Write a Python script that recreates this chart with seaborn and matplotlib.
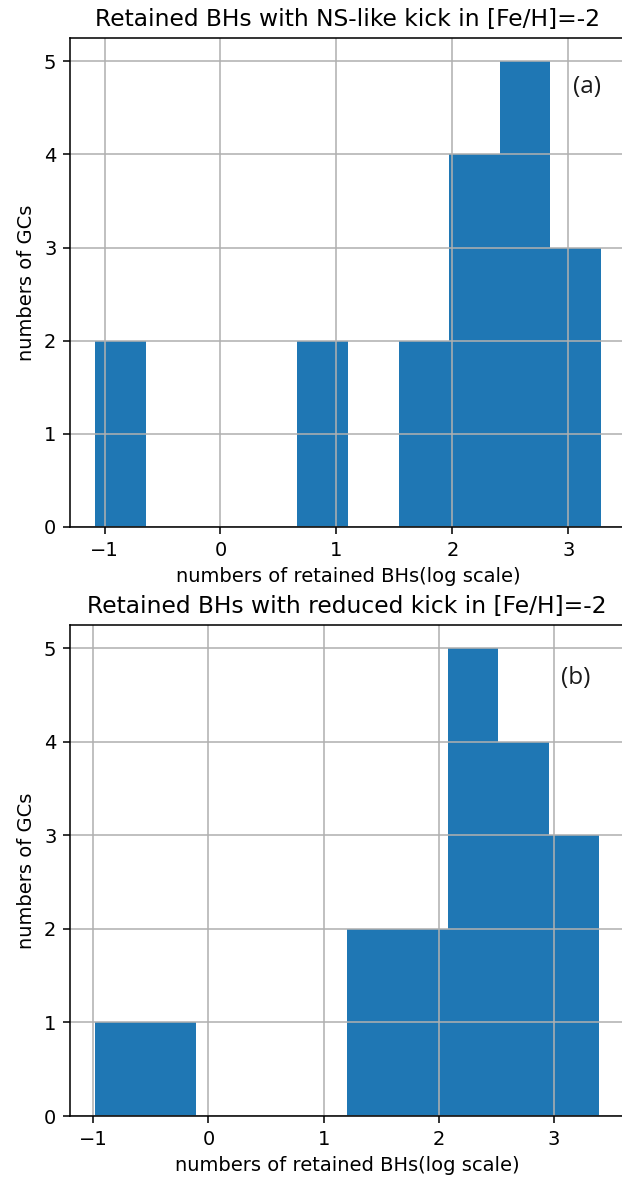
import matplotlib
matplotlib.use("Agg")
import matplotlib.pyplot as plt
import seaborn as sns
import numpy as np
import pandas as pd

# bin edges (log10 of retained BH number) and GC counts per bin
ns_kick_edges = [-1.08, -0.644, -0.208, 0.228, 0.664, 1.10, 1.536, 1.972, 2.408, 2.844, 3.28]
ns_kick_counts = [2, 0, 0, 0, 2, 0, 2, 4, 5, 3]

reduced_kick_edges = [-0.984, -0.547, -0.109, 0.328, 0.766, 1.203, 1.641, 2.078, 2.516, 2.953, 3.39]
reduced_kick_counts = [1, 1, 0, 0, 0, 2, 2, 5, 4, 3]

titles = ["Retained BHs with NS-like kick in [Fe/H]=-2",
          "Retained BHs with reduced kick in [Fe/H]=-2"]
panel_tags = ["(a)", "(b)"]
xlabel = "numbers of retained BHs(log scale)"
ylabel = "numbers of GCs"

W, H, DPI = 622, 1180, 140
fig = plt.figure(figsize=(W / DPI, H / DPI), dpi=DPI)

# axes boxes in pixels: left, top, right, bottom
boxes = [(70, 38, 626, 527), (70, 625, 624, 1116)]
tag_pos = [(0.904, 0.899), (0.886, 0.892)]

data = [(ns_kick_edges, ns_kick_counts), (reduced_kick_edges, reduced_kick_counts)]

for i, (edges, counts) in enumerate(data):
    l, t, r, b = boxes[i]
    ax = fig.add_axes([l / W, 1 - b / H, (r - l) / W, (b - t) / H])
    e = np.array(edges)
    df = pd.DataFrame({"logn": (e[:-1] + e[1:]) / 2, "count": counts})
    sns.histplot(data=df, x="logn", weights="count", bins=list(edges), ax=ax,
                 color="#1f77b4", alpha=1, linewidth=0)
    ax.set_axisbelow("line")
    ax.grid(True, color="#b0b0b0", linewidth=0.8)
    ax.spines["right"].set_visible(False)
    ax.set_title(titles[i])
    ax.set_xlabel(xlabel)
    ax.set_ylabel(ylabel)
    ax.text(tag_pos[i][0], tag_pos[i][1], panel_tags[i], transform=ax.transAxes,
            fontsize=12.5, family=["Open Sans", "DejaVu Sans"], va="center", ha="left",
            color="#1a1a1a")

fig.savefig("out.png", dpi=DPI)
